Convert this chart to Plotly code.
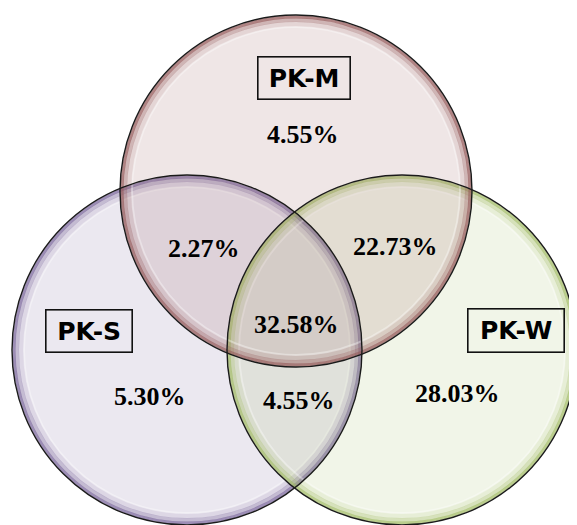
import plotly.graph_objects as go

# ---- data ----
set_names = ["PK-M", "PK-S", "PK-W"]
region_labels = ["M only", "M∩S", "M∩W", "M∩S∩W", "S only", "S∩W", "W only"]
region_values = [4.55, 2.27, 22.73, 32.58, 5.30, 4.55, 28.03]

# ---- layout geometry (pixel space of the 577x525 page) ----
W, H = 577, 525
OFF = 8  # page body margin
circles = {
    "PK-M": dict(cx=296, cy=191, r=176, rgb=(148, 88, 88)),
    "PK-S": dict(cx=187, cy=350, r=175, rgb=(122, 102, 155)),
    "PK-W": dict(cx=402, cy=350, r=175, rgb=(162, 188, 102)),
}
draw_order = ["PK-S", "PK-W", "PK-M"]
region_pos = [(303, 134), (204, 248), (395, 246), (296, 324), (150, 396), (299, 400), (457, 393)]
name_pos = {"PK-M": (303.5, 77.5, 91, 41), "PK-S": (88.5, 330.5, 85, 41), "PK-W": (515.5, 330, 95, 42)}

def rgba(rgb, a):
    return "rgba(%d,%d,%d,%.3f)" % (rgb[0], rgb[1], rgb[2], a)

shapes = []
for name in draw_order:
    c = circles[name]
    cx, cy, r = c["cx"], c["cy"], c["r"]
    shapes.append(dict(type="circle", xref="x", yref="y",
                       x0=cx - r, x1=cx + r, y0=cy - r, y1=cy + r,
                       fillcolor=rgba(c["rgb"], 0.15), line=dict(width=0), layer="above"))
    # glossy rim
    for d, w, a in [(2, 3, 0.7), (5, 4, 0.35), (9, 5, 0.12)]:
        shapes.append(dict(type="circle", xref="x", yref="y",
                           x0=cx - r + d, x1=cx + r - d, y0=cy - r + d, y1=cy + r - d,
                           fillcolor="rgba(0,0,0,0)", line=dict(width=w, color=rgba(c["rgb"], a)),
                           layer="above"))
    # soft white highlight ring
    d = 12
    shapes.append(dict(type="circle", xref="x", yref="y",
                       x0=cx - r + d, x1=cx + r - d, y0=cy - r + d, y1=cy + r - d,
                       fillcolor="rgba(0,0,0,0)", line=dict(width=2, color="rgba(255,255,255,0.35)"),
                       layer="above"))
for name in draw_order:
    c = circles[name]
    cx, cy, r = c["cx"], c["cy"], c["r"]
    shapes.append(dict(type="circle", xref="x", yref="y",
                       x0=cx - r, x1=cx + r, y0=cy - r, y1=cy + r,
                       fillcolor="rgba(0,0,0,0)", line=dict(width=1.4, color="#1a1a1a"), layer="above"))

annotations = []
for (x, y), v in zip(region_pos, region_values):
    annotations.append(dict(x=x, y=y, xref="x", yref="y", text="%.2f%%" % v, showarrow=False,
                            font=dict(family="Liberation Serif", size=26, color="black", weight="bold")))
for name in set_names:
    x, y, bw, bh = name_pos[name]
    annotations.append(dict(x=x, y=y, xref="x", yref="y", text=name, showarrow=False,
                            width=bw, height=bh, borderpad=0, bordercolor="#111111", borderwidth=1.6,
                            font=dict(family="DejaVu Sans", size=25, color="black", weight="bold")))

fig = go.Figure()
fig.add_trace(go.Scatter(x=[OFF, W], y=[OFF, H], mode="markers", marker=dict(opacity=0), hoverinfo="skip",
                         showlegend=False))
fig.update_layout(
    width=W - OFF, height=H - OFF, margin=dict(l=0, r=0, t=0, b=0),
    paper_bgcolor="white", plot_bgcolor="white",
    xaxis=dict(range=[OFF, W], visible=False, fixedrange=True),
    yaxis=dict(range=[H, OFF], visible=False, fixedrange=True),
    shapes=shapes, annotations=annotations, showlegend=False,
)
fig.write_html("out.html")
